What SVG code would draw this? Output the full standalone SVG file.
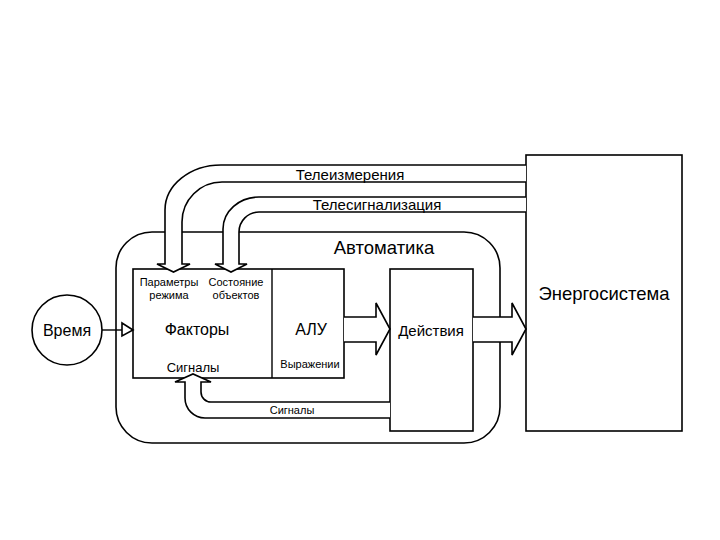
<svg xmlns="http://www.w3.org/2000/svg" width="720" height="540" viewBox="0 0 720 540">
<style>
.box{fill:#fff;stroke:#000;stroke-width:1.6}
.arr{fill:#fff;stroke:#000;stroke-width:1.6;stroke-linejoin:miter}
.ln{fill:none;stroke:#000;stroke-width:1.4}
text{font-family:"Liberation Sans",Arial,sans-serif;fill:#000;text-anchor:middle;dominant-baseline:central}
.s{font-size:11px}
.m{font-size:13px}
.t{font-size:15px}
.l{font-size:16px}
.xl{font-size:18.5px}
</style>
<rect width="720" height="540" fill="#fff"/>
<g id="energosistema">
<rect class="box" x="526" y="155" width="156" height="276"/>
<text class="xl" x="604" y="293">Энергосистема</text>
</g>
<g id="avtomatika">
<rect class="box" x="116" y="232" width="384" height="211" rx="36" ry="36"/>
<text class="xl" x="384" y="247">Автоматика</text>
</g>
<g id="vremya">
<circle class="box" cx="67" cy="330" r="35"/>
<text class="l" x="67" y="330">Время</text>
</g>
<g id="faktory">
<rect class="box" x="133" y="269" width="211" height="109"/>
<line class="ln" x1="272" y1="269" x2="272" y2="378"/>
<text class="s" x="169" y="282">Параметры</text>
<text class="s" x="169" y="295">режима</text>
<text class="s" x="236" y="282">Состояние</text>
<text class="s" x="236" y="295">объектов</text>
<text class="l" x="197" y="329">Факторы</text>
<text class="m" x="193" y="367">Сигналы</text>
<text class="l" x="311" y="329" font-size="16.5">АЛУ</text>
<text class="s" x="310" y="364">Выражении</text>
</g>
<g id="deystviya">
<rect class="box" x="390" y="269" width="83" height="162"/>
<text class="t" x="431" y="330" font-size="14.5">Действия</text>
</g>
<g id="connectors">
<path class="arr" d="M526 165 H221 A56 45 0 0 0 165 210 V264 H157 L173.5 272 L190 264 H182 V222 A40 40 0 0 1 222 182 H526"/>
<path class="arr" d="M526 197 H259 A36 32 0 0 0 223 229 V264 H215 L231 272 L247 264 H239 V232 A20 20 0 0 1 259 212 H526"/>
<path class="arr" d="M390 418 H205 A20 20 0 0 1 185 398 V382 H175 L193 374 L211 382 H201 V392 A10 10 0 0 0 211 402 H390"/>
<path class="arr" d="M344 317 H376 V303 L390 329 L376 355 V342 H344"/>
<path class="arr" d="M473 317 H512 V303 L526 329 L512 355 V342 H473"/>
<line class="ln" x1="102" y1="330" x2="122" y2="330"/>
<path class="arr" d="M122 323 L133 330 L122 336 Z"/>
<text class="t" x="350" y="174">Телеизмерения</text>
<text class="t" x="377" y="204">Телесигнализация</text>
<text class="s" x="292" y="410">Сигналы</text>
</g>
</svg>
